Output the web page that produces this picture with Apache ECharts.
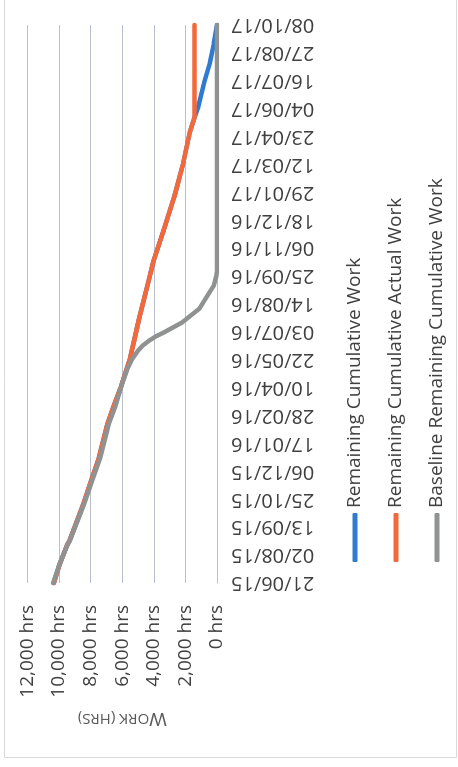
<!DOCTYPE html>
<html>
<head>
<meta charset="utf-8">
<script src="https://cdn.jsdelivr.net/npm/echarts@6/dist/echarts.min.js"></script>
<style>
  html, body { margin: 0; padding: 0; background: #fff; overflow: hidden; }
  /* chart is laid out landscape, then turned a quarter turn counter-clockwise */
  #frame {
    position: absolute; left: 0; top: 0;
    width: 767px; height: 458px;
    transform-origin: 0 0;
    transform: translate(0, 767px) rotate(-90deg);
  }
</style>
</head>
<body>
<div id="frame"></div>
<script>
// Project start; the date axis counts days from here
const startDate = '2015-06-21';
const axisEndDays = 840;        // 08/10/17
const labelStepDays = 42;       // one label every six weeks

// Baseline remaining cumulative work (hrs)
const baselineDates = ['2015-06-21','2015-07-19','2015-08-16','2015-08-23','2015-09-20','2015-10-18',
  '2015-11-22','2015-12-27','2016-02-14','2016-03-13','2016-04-17','2016-05-08','2016-05-22',
  '2016-06-05','2016-06-12','2016-06-19','2016-06-26','2016-07-03','2016-07-17','2016-08-07',
  '2016-08-21','2016-09-11','2016-09-25','2016-10-02','2017-10-08'];
const baselineWork = [10380, 9980, 9500, 9330, 8870, 8420,
  7910, 7390, 6870, 6440, 5990, 5680, 5400,
  5000, 4720, 4350, 3900, 3300, 2220, 1120,
  750, 200, 50, 0, 0];

// Remaining cumulative actual work (hrs)
const actualDates = ['2015-06-21','2015-07-19','2015-08-16','2015-08-23','2015-09-20','2015-10-18',
  '2015-11-22','2015-12-27','2016-02-14','2016-03-13','2016-04-10','2016-05-22','2016-06-19',
  '2016-07-24','2016-09-18','2016-10-16','2016-12-04','2017-01-22','2017-03-12','2017-04-02',
  '2017-04-30','2017-05-21','2017-10-08'];
const actualWork = [10330, 9960, 9510, 9350, 8900, 8460,
  7970, 7470, 6960, 6540, 6110, 5530, 5260,
  4920, 4330, 4040, 3360, 2710, 2160, 1970,
  1720, 1430, 1430];

// Remaining cumulative work (hrs): actuals to the status date, then the forecast
const remainingDates = ['2015-06-21','2015-07-19','2015-08-16','2015-08-23','2015-09-20','2015-10-18',
  '2015-11-22','2015-12-27','2016-02-14','2016-03-13','2016-04-10','2016-05-22','2016-06-19',
  '2016-07-24','2016-09-18','2016-10-16','2016-12-04','2017-01-22','2017-03-12','2017-04-02',
  '2017-04-30','2017-05-21','2017-06-04','2017-07-16','2017-08-13','2017-09-10','2017-10-08'];
const remainingWork = [10330, 9960, 9510, 9350, 8900, 8460,
  7970, 7470, 6960, 6540, 6110, 5530, 5260,
  4920, 4330, 4040, 3360, 2710, 2160, 1970,
  1720, 1430, 1220, 780, 440, 200, 0];

const seriesNames = ['Remaining Cumulative Work', 'Remaining Cumulative Actual Work', 'Baseline Remaining Cumulative Work'];
const seriesColors = ['#2f7bd0', '#f4683a', '#8f9291'];

const DAY = 86400000;
const t0 = Date.parse(startDate + 'T00:00:00Z');
const toDays = s => Math.round((Date.parse(s + 'T00:00:00Z') - t0) / DAY);
const pairs = (dates, vals) => dates.map((d, i) => [toDays(d), vals[i]]);
const pad = n => String(n).padStart(2, '0');
function dayLabel(d) {
  const t = new Date(t0 + d * DAY);
  return pad(t.getUTCDate()) + '/' + pad(t.getUTCMonth() + 1) + '/' + pad(t.getUTCFullYear() % 100);
}
const hrsLabel = v => v.toLocaleString('en-US') + ' hrs';

const font = '"Open Sans", sans-serif';
const textColor = '#404040';
const gridColor = '#b9c0cc';

const chart = echarts.init(document.getElementById('frame'), null, { renderer: 'canvas' });

const lineSeries = (name, color, data) => ({
  name, type: 'line', data,
  showSymbol: false, symbol: 'none',
  lineStyle: { color, width: 4.5, cap: 'round', join: 'round' },
  itemStyle: { color },
  emphasis: { disabled: true },
  animation: false
});

chart.setOption({
  backgroundColor: '#ffffff',
  animation: false,
  textStyle: { fontFamily: font },
  grid: { left: 184, right: 25, top: 27.5, bottom: 241, containLabel: false },
  xAxis: {
    type: 'value', min: 0, max: axisEndDays, interval: labelStepDays,
    axisLine: { show: true, onZero: false, lineStyle: { color: gridColor, width: 1 } },
    axisTick: { show: false },
    splitLine: { show: false },
    axisLabel: {
      rotate: 90, margin: 14, formatter: dayLabel,
      color: textColor, fontFamily: font, fontSize: 20,
      showMinLabel: true, showMaxLabel: true
    }
  },
  yAxis: {
    type: 'value', min: 0, max: 12000, interval: 2000,
    axisLine: { show: false }, axisTick: { show: false },
    splitLine: { show: true, showMinLine: true, showMaxLine: true, lineStyle: { color: gridColor, width: 1, type: 'solid' } },
    axisLabel: { formatter: hrsLabel, margin: 22, color: textColor, fontFamily: font, fontSize: 19 },
    name: '{a|W}{b|ORK (HRS)}',
    nameLocation: 'middle', nameGap: 126, nameRotate: 90,
    nameTextStyle: {
      color: '#595959', fontFamily: font,
      rich: {
        a: { fontSize: 19, color: '#595959', fontFamily: font },
        b: { fontSize: 15, color: '#595959', fontFamily: font }
      }
    }
  },
  legend: {
    orient: 'vertical', left: 200, top: 339,
    itemWidth: 49, itemHeight: 5, itemGap: 19,
    icon: 'roundRect',
    selectedMode: false,
    textStyle: { color: textColor, fontFamily: font, fontSize: 19, lineHeight: 22 },
    data: seriesNames
  },
  graphic: [{
    type: 'rect', silent: true,
    shape: { x: 9.5, y: 4.5, width: 780, height: 452 },
    style: { fill: 'none', stroke: '#d9d9d9', lineWidth: 1 }
  }],
  series: [
    lineSeries(seriesNames[0], seriesColors[0], pairs(remainingDates, remainingWork)),
    lineSeries(seriesNames[1], seriesColors[1], pairs(actualDates, actualWork)),
    lineSeries(seriesNames[2], seriesColors[2], pairs(baselineDates, baselineWork))
  ]
});
</script>
</body>
</html>
